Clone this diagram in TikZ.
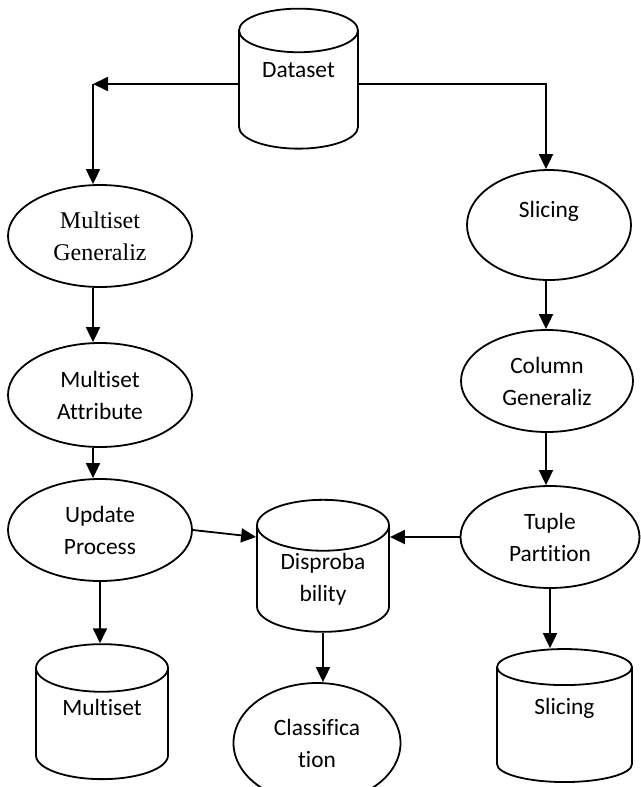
\documentclass[tikz,border=0pt]{standalone}
\usepackage{fontspec}
\setmainfont[Ligatures=NoCommon]{Carlito}
\newfontfamily\tnr{Liberation Serif}
\usetikzlibrary{shapes.geometric,arrows.meta}
\newcommand{\up}[2]{\raisebox{#1}[\height][\depth]{#2}}
\begin{document}
\begin{tikzpicture}
[   x=0.5pt,y=-0.5pt,
    every node/.style={font=\fontsize{11.7}{16}\selectfont,align=center},
    enode/.style={draw=black,line width=0.9pt,ellipse,inner sep=0pt,minimum width=#1},
    cnode/.style={draw=black,line width=0.9pt,cylinder,shape border rotate=90,aspect=0.6,inner sep=0pt,minimum width=#1},
    arr/.style={line width=0.9pt,-{Triangle[length=7.5pt,width=7pt]}},
]
    \useasboundingbox (0,0) rectangle (641,787);
    %
    \node[cnode=59.5pt,minimum height=70pt] (data) at (298.5,90) {\up{10pt}{Dataset}};
    \node[enode=92pt,minimum height=51pt,font=\tnr\fontsize{12}{16}\selectfont] (mgen) at (100,236) {Multiset\\Generaliz};
    \node[enode=92pt,minimum height=52pt] (mattr) at (100,395) {Multiset\\Attribute};
    \node[enode=92pt,minimum height=51pt] (upd) at (100,530) {Update\\Process};
    \node[cnode=66pt,minimum height=67.5pt] (mset) at (102,724) {\up{8.5pt}{Multiset}};

    \node[enode=82pt,minimum height=55pt] (slc) at (549,225) {Slicing\\~};
    \node[enode=86pt,minimum height=51pt] (colg) at (547,381) {Column\\Generaliz};
    \node[enode=89.5pt,minimum height=51pt] (tup) at (550,537) {Tuple\\Partition};
    \node[cnode=67.5pt,minimum height=66.5pt] (slcd) at (564.5,725) {\up{8.5pt}{Slicing}};

    \node[cnode=66pt,minimum height=66pt] (disp) at (323,579) {Disproba\\bility};
    \node[enode=83.5pt,minimum height=60pt] (cls) at (317,743) {Classifica\\tion};

    \coordinate (dl) at (93,84);
    \coordinate (dr) at (546,84);
    \draw[arr] (data.west |- dl) -- (dl);
    \draw[arr] (dl) -- (mgen.north -| dl);
    \draw[arr] (data.east |- dr) -- (dr) -- (slc.north -| dr);

    \draw[arr] (mgen.south -| dl) -- (mattr.north -| dl);
    \draw[arr] (mattr.south -| dl) -- (upd.north -| dl);
    \draw[arr] (upd.south) -- (mset.north -| upd.south);

    \draw[arr] (slc.south -| dr) -- (colg.north -| dr);
    \draw[arr] (colg.south -| dr) -- (tup.north -| dr);
    \draw[arr] (tup.south) -- (slcd.north -| tup.south);

    \draw[arr] (upd.east) -- (disp.west |- tup.west);
    \draw[arr] (tup.west) -- (disp.east |- tup.west);
    \draw[arr] (disp.south) -- (cls.north -| disp.south);
\end{tikzpicture}
\end{document}
